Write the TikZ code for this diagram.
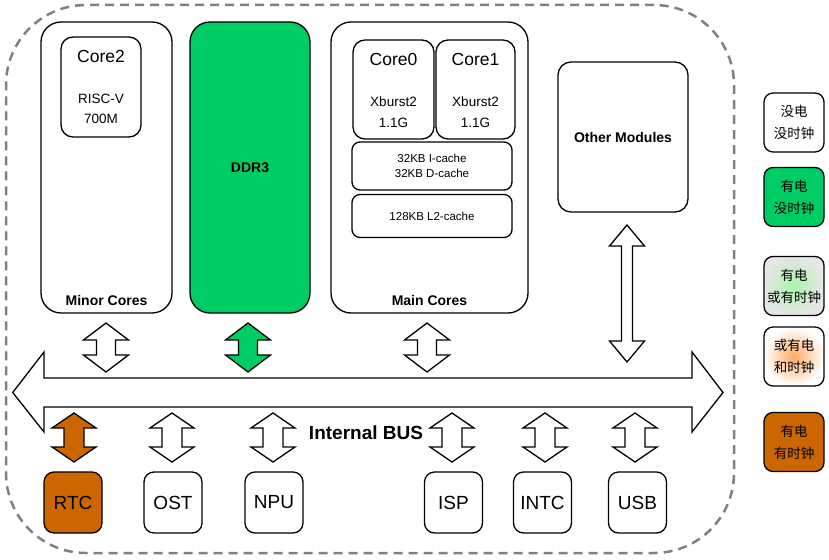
\documentclass[tikz,border=0pt]{standalone}
\usepackage{fontspec}
\setmainfont{Liberation Sans}
\newfontfamily\cjk{Noto Sans CJK SC}
\definecolor{ddrgreen}{HTML}{00CC66}
\definecolor{rtcorange}{HTML}{CC6600}
\definecolor{lgray}{HTML}{E6E6E6}
\definecolor{dashgray}{HTML}{808080}
\newcommand\dblarrow[7]{%
  \draw[#7] (#1,#2) -- ({#1+#4},{#2+#6}) -- ({#1+#5},{#2+#6}) -- ({#1+#5},{#3-#6})
    -- ({#1+#4},{#3-#6}) -- (#1,#3) -- ({#1-#4},{#3-#6}) -- ({#1-#5},{#3-#6})
    -- ({#1-#5},{#2+#6}) -- ({#1-#4},{#2+#6}) -- cycle;}
\begin{document}
\begin{tikzpicture}[x=1pt,y=-1pt,
  bx/.style={draw=black, line width=1.3pt, inner sep=0pt},
  bigbox/.style={bx, rounded corners=20pt},
  corebox/.style={bx, rounded corners=12pt},
  cachebox/.style={bx, rounded corners=8pt, minimum width=160pt},
  periph/.style={bx, rounded corners=10pt, minimum width=58pt, minimum height=61pt, font=\fontsize{19}{22}\selectfont},
  legend/.style={bx, rounded corners=9pt, minimum width=60pt, minimum height=59pt, align=center, font=\cjk\fontsize{13.5}{22}\selectfont},
  arr/.style={draw=black, line width=1.3pt, fill=white, line join=miter},
  title/.style={font=\bfseries\fontsize{14}{16}\selectfont},
  big/.style={font=\fontsize{17.5}{20}\selectfont},
  mid/.style={font=\fontsize{13.5}{16}\selectfont},
  small/.style={font=\fontsize{11.5}{15}\selectfont, align=center}]
\useasboundingbox (0,0) rectangle (829,559);

% outer dashed frame
\node[draw=dashgray, line width=2.5pt, dash pattern=on 9pt off 6pt, rounded corners=80pt,
      minimum width=728pt, minimum height=548pt] (outer) at (370,279) {};

% minor cores
\node[bigbox, minimum width=131pt, minimum height=291pt] (minor) at (106.5,167.5) {};
\node[corebox, minimum width=80pt, minimum height=100pt] (core2) at (101,87) {};
\node[big] (core2t) at (101,56) {Core2};
\node[mid] (core2a) at (101,99) {RISC-V};
\node[mid] (core2b) at (101,119) {700M};
\node[title] (minort) at (106.5,300) {Minor Cores};

% DDR3
\node[bigbox, fill=ddrgreen, minimum width=120pt, minimum height=291pt] (ddr) at (250,167.5) {};
\node[title] (ddrt) at (250,168) {DDR3};

% main cores
\node[bigbox, minimum width=197pt, minimum height=291pt] (main) at (429.5,167.5) {};
\node[corebox, minimum width=81pt, minimum height=99pt] (core0) at (393.5,89.5) {};
\node[corebox, minimum width=79pt, minimum height=99pt] (core1) at (475.5,89.5) {};
\node[big] (core0t) at (393.5,59) {Core0};
\node[mid] (core0a) at (393.5,102) {Xburst2};
\node[mid] (core0b) at (393.5,123) {1.1G};
\node[big] (core1t) at (475.5,59) {Core1};
\node[mid] (core1a) at (475.5,102) {Xburst2};
\node[mid] (core1b) at (475.5,123) {1.1G};
\node[cachebox, minimum height=48pt, small] (cache1) at (432,166) {32KB I-cache\\32KB D-cache};
\node[cachebox, minimum height=43pt, small] (cache2) at (432,216) {128KB L2-cache};
\node[title] (maint) at (429.5,300) {Main Cores};

% other modules
\node[bx, rounded corners=13pt, minimum width=130pt, minimum height=150pt, title] (other) at (623,137) {Other Modules};

% internal bus
\draw[arr] (12.7,392.5) -- (44,352) -- (44,378) -- (692,378) -- (692,352) -- (723,392.5)
  -- (692,432) -- (692,407) -- (44,407) -- (44,432) -- cycle;
\node[font=\bfseries\fontsize{19}{22}\selectfont] (bust) at (366,433) {Internal BUS};

% upper connectors
\dblarrow{106}{323}{372}{22.5}{9.5}{17}{arr}
\dblarrow{248}{323}{372}{22.5}{9.5}{17}{arr, fill=ddrgreen}
\dblarrow{427}{323}{372}{22.5}{9.5}{17}{arr}
\dblarrow{627}{225}{362}{17.5}{5.5}{21}{arr}

% lower connectors
\dblarrow{74}{413}{462}{22}{10}{15}{arr, fill=rtcorange}
\dblarrow{172}{413}{462}{22}{10}{15}{arr}
\dblarrow{273}{413}{462}{22}{10}{15}{arr}
\dblarrow{452}{413}{462}{22}{10}{15}{arr}
\dblarrow{545}{413}{462}{22}{10}{15}{arr}
\dblarrow{635}{413}{462}{22}{10}{15}{arr}

% peripherals
\node[periph, fill=rtcorange] (rtc) at (73,502.5) {RTC};
\node[periph] (ost) at (173,502.5) {OST};
\node[periph] (npu) at (274,502.5) {NPU};
\node[periph] (isp) at (453.5,502.5) {ISP};
\node[periph] (intc) at (542.5,502.5) {INTC};
\node[periph] (usb) at (637.5,502.5) {USB};

% legend
\node[legend] (lg1) at (794,122.5) {没电\\没时钟};
\node[legend, fill=ddrgreen] (lg2) at (794,197) {有电\\没时钟};
\node[legend, inner color={rgb,255:red,170;green,245;blue,170}, outer color=lgray] (lg3) at (794,286) {有电\\或有时钟};
\node[legend, inner color={rgb,255:red,255;green,170;blue,100}, outer color=white] (lg4) at (794,356.5) {或有电\\和时钟};
\node[legend, fill=rtcorange] (lg5) at (794,442) {有电\\有时钟};
\end{tikzpicture}
\end{document}
